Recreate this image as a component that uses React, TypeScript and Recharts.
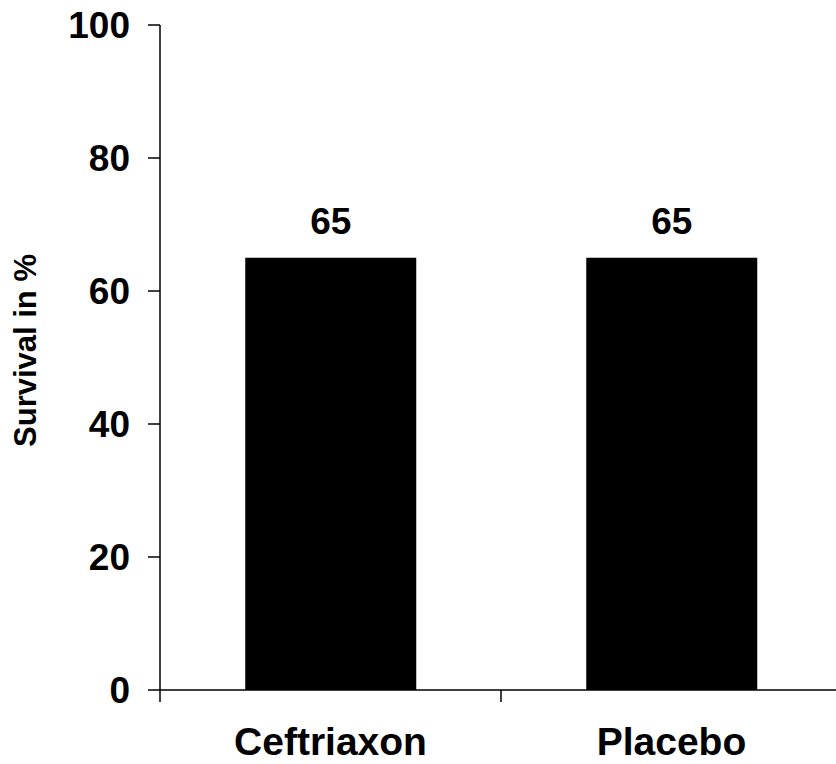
import React from 'react';
import { BarChart, Bar, XAxis, YAxis, LabelList } from 'recharts';

const groups = ['Ceftriaxon', 'Placebo'];
const survival = [65, 65];
const yTicks = [0, 20, 40, 60, 80, 100];
const edgeTicks = [0, 1, 2];

const data = groups.map((g, i) => ({ group: g, survival: survival[i], edge: i }));

const FONT = '"Liberation Sans", Arial, sans-serif';

const YLabel = (props: any) => {
  const { viewBox } = props;
  const cx = viewBox.x + 25;
  const cy = viewBox.y + viewBox.height / 2 - 7;
  return (
    <text
      x={cx}
      y={cy}
      transform={`rotate(-90, ${cx}, ${cy})`}
      textAnchor="middle"
      dominantBaseline="central"
      fontFamily={FONT}
      fontWeight="bold"
      fontSize={31}
      fill="#000"
    >
      Survival in %
    </text>
  );
};

const NoLabel = () => <g />;

export default function App() {
  return (
    <div style={{ position: 'absolute', left: 0, top: 0, width: 836, height: 764, overflow: 'hidden', background: '#fff' }}>
      <BarChart
        width={842}
        height={764}
        data={data}
        margin={{ top: 25, right: 0, bottom: 0, left: 0 }}
        barCategoryGap="25%"
      >
        {/* boundary ticks between groups, drawn on a plain numeric axis */}
        <XAxis
          xAxisId="aEdges"
          dataKey="edge"
          type="number"
          domain={[0, 2]}
          allowDataOverflow
          ticks={edgeTicks}
          interval={0}
          tick={<NoLabel />}
          tickSize={12}
          height={1}
          axisLine={{ stroke: '#000', strokeWidth: 1.5 }}
          tickLine={{ stroke: '#000', strokeWidth: 1.5 }}
        />
        <XAxis
          xAxisId="cat"
          dataKey="group"
          type="category"
          height={73}
          axisLine={false}
          tickLine={false}
          tickSize={0}
          tickMargin={36}
          tick={{ fontFamily: FONT, fontWeight: 'bold', fontSize: 39, fill: '#000' }}
        />
        <YAxis
          type="number"
          domain={[0, 100]}
          ticks={yTicks}
          width={160}
          tickSize={12}
          tickMargin={18}
          axisLine={{ stroke: '#000', strokeWidth: 1.5 }}
          tickLine={{ stroke: '#000', strokeWidth: 1.5 }}
          tick={{ fontFamily: FONT, fontWeight: 'bold', fontSize: 37, fill: '#000' }}
          label={<YLabel />}
        />
        <Bar dataKey="survival" xAxisId="cat" fill="#000" isAnimationActive={false}>
          <LabelList
            dataKey="survival"
            position="top"
            offset={24}
            fill="#000"
            fontFamily={FONT}
            fontWeight="bold"
            fontSize={37}
          />
        </Bar>
      </BarChart>
    </div>
  );
}
